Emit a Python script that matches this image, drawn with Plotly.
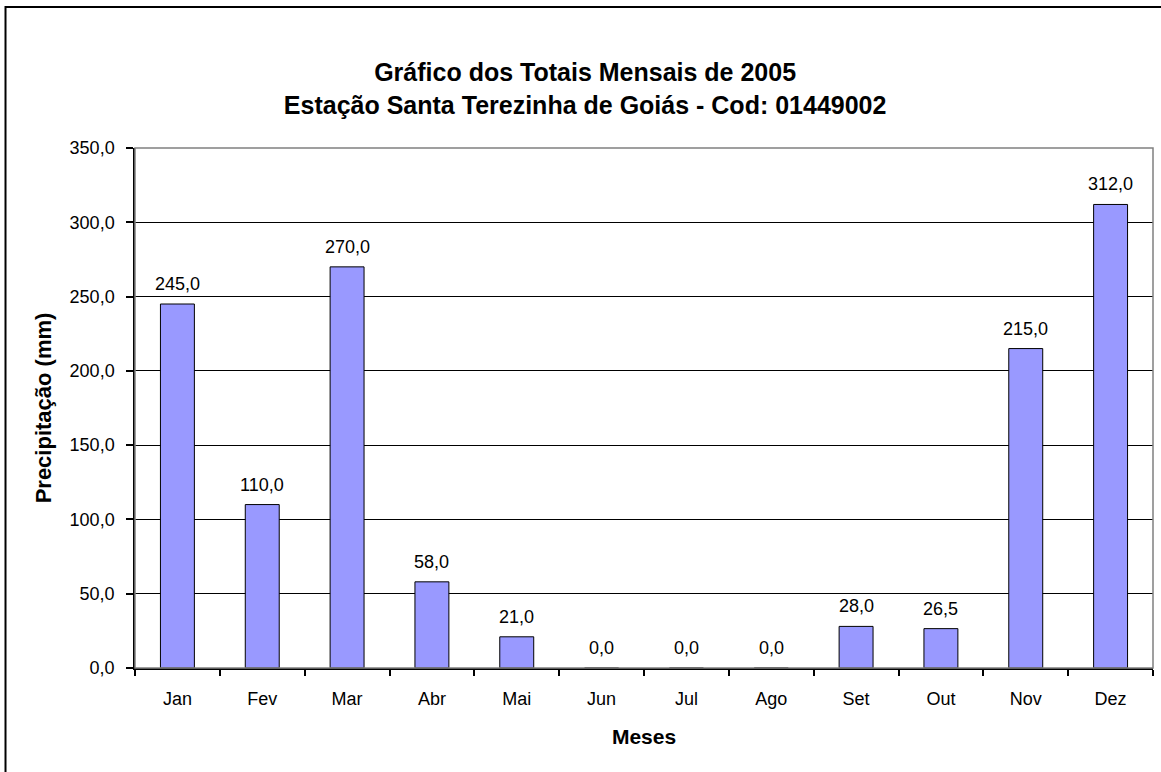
import plotly.graph_objects as go

# Monthly rainfall totals, 2005
meses = ["Jan", "Fev", "Mar", "Abr", "Mai", "Jun", "Jul", "Ago", "Set", "Out", "Nov", "Dez"]
precipitacao = [245.0, 110.0, 270.0, 58.0, 21.0, 0.0, 0.0, 0.0, 28.0, 26.5, 215.0, 312.0]
y_ticks = [0, 50, 100, 150, 200, 250, 300, 350]

FONT = "Liberation Sans, Arial, sans-serif"

fig = go.Figure()
fig.add_trace(go.Bar(
    x=meses,
    y=precipitacao,
    width=0.4,
    marker=dict(color="#9999FF", line=dict(color="#000000", width=1)),
    hoverinfo="x+y",
))

# value labels above each bar
for m, v in zip(meses, precipitacao):
    fig.add_annotation(
        x=m, y=v, xref="x", yref="y",
        text=f"{v:.1f}".replace(".", ","),
        showarrow=False, yanchor="bottom", yshift=8,
        font=dict(family=FONT, size=18, color="#000000"),
    )

fig.update_layout(
    width=1161, height=772,
    margin=dict(l=135, r=8, t=148, b=104),
    paper_bgcolor="white", plot_bgcolor="white",
    separators=",.",
    showlegend=False,
    bargap=0.6,
    font=dict(family=FONT, size=18, color="#000000"),
    title=dict(
        text="Gráfico dos Totais Mensais de 2005<br>Estação Santa Terezinha de Goiás - Cod: 01449002",
        x=0.504, xref="container", xanchor="center",
        y=0.895, yref="container", yanchor="top",
        font=dict(family=FONT, size=25, color="#000000", weight="bold"),
    ),
    xaxis=dict(
        type="category",
        tickson="boundaries",
        ticks="outside", ticklen=6, tickwidth=1.5, tickcolor="#000000",
        showline=True, linecolor="#000000", linewidth=1.5,
        showgrid=False,
        tickfont=dict(family=FONT, size=18),
        ticklabelstandoff=14,
        title=dict(text="Meses", standoff=21,
                   font=dict(family=FONT, size=21, weight="bold")),
    ),
    yaxis=dict(
        range=[0, 350],
        tickvals=y_ticks,
        tickformat=".1f",
        ticks="outside", ticklen=7, tickwidth=1.5, tickcolor="#000000",
        showline=True, linecolor="#000000", linewidth=1.5,
        showgrid=True, gridcolor="#000000", gridwidth=1,
        zeroline=False,
        tickfont=dict(family=FONT, size=18),
        ticklabelstandoff=8,
        title=dict(text="Precipitação (mm)", standoff=12,
                   font=dict(family=FONT, size=22, weight="bold")),
    ),
    shapes=[
        # grey plot-area frame
        dict(type="rect", xref="paper", yref="paper", x0=0, x1=1, y0=0, y1=1,
             line=dict(color="#808080", width=1.5), layer="above"),
        # outer chart border
        dict(type="rect", xref="paper", yref="paper",
             x0=-0.1272, x1=1.2, y0=-0.4, y1=1.271,
             line=dict(color="#000000", width=2), layer="below"),
    ],
)

fig.write_html("out.html")
